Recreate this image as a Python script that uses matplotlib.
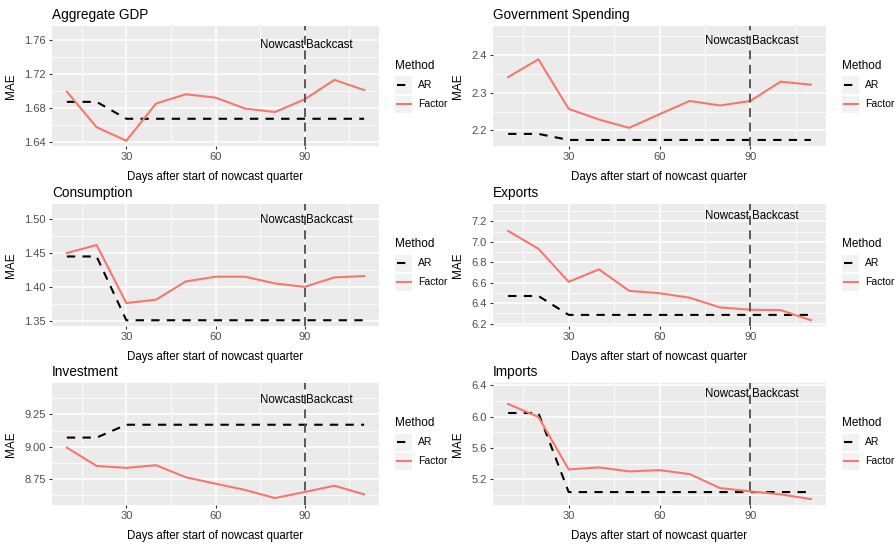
import matplotlib
matplotlib.use("Agg")
import matplotlib.pyplot as plt
from matplotlib.lines import Line2D
from matplotlib.patches import Rectangle

plt.rcParams['font.family'] = ['Liberation Sans', 'DejaVu Sans']

days = [10, 20, 30, 40, 50, 60, 70, 80, 90, 100, 110]

titles = ["Aggregate GDP", "Government Spending", "Consumption",
          "Exports", "Investment", "Imports"]

ar_gdp = [1.687, 1.687, 1.667, 1.667, 1.667, 1.667, 1.667, 1.667, 1.667, 1.667, 1.667]
factor_gdp = [1.699, 1.657, 1.641, 1.685, 1.696, 1.692, 1.679, 1.675, 1.690, 1.713, 1.701]

ar_gov = [2.191, 2.191, 2.175, 2.175, 2.175, 2.175, 2.175, 2.175, 2.175, 2.175, 2.175]
factor_gov = [2.341, 2.388, 2.257, 2.229, 2.207, 2.243, 2.278, 2.266, 2.278, 2.329, 2.321]

ar_cons = [1.445, 1.445, 1.3505, 1.3505, 1.3505, 1.3505, 1.3505, 1.3505, 1.3505, 1.3505, 1.3505]
factor_cons = [1.450, 1.462, 1.376, 1.381, 1.408, 1.415, 1.415, 1.405, 1.400, 1.414, 1.416]

ar_exp = [6.47, 6.47, 6.285, 6.285, 6.285, 6.285, 6.285, 6.285, 6.285, 6.285, 6.285]
factor_exp = [7.107, 6.933, 6.609, 6.731, 6.520, 6.497, 6.453, 6.358, 6.335, 6.332, 6.233]

ar_inv = [9.070, 9.070, 9.170, 9.170, 9.170, 9.170, 9.170, 9.170, 9.170, 9.170, 9.170]
factor_inv = [8.992, 8.849, 8.834, 8.855, 8.761, 8.711, 8.662, 8.599, 8.646, 8.695, 8.628]

ar_imp = [6.047, 6.047, 5.038, 5.038, 5.038, 5.038, 5.038, 5.038, 5.038, 5.038, 5.038]
factor_imp = [6.162, 5.997, 5.327, 5.353, 5.302, 5.318, 5.267, 5.089, 5.047, 5.009, 4.949]

ar_series = [ar_gdp, ar_gov, ar_cons, ar_exp, ar_inv, ar_imp]
factor_series = [factor_gdp, factor_gov, factor_cons, factor_exp, factor_inv, factor_imp]

yticks = [[1.64, 1.68, 1.72, 1.76],
          [2.2, 2.3, 2.4],
          [1.35, 1.40, 1.45, 1.50],
          [6.2, 6.4, 6.6, 6.8, 7.0, 7.2],
          [8.75, 9.00, 9.25],
          [5.2, 5.6, 6.0, 6.4]]
ytick_labels = [["1.64", "1.68", "1.72", "1.76"],
                ["2.2", "2.3", "2.4"],
                ["1.35", "1.40", "1.45", "1.50"],
                ["6.2", "6.4", "6.6", "6.8", "7.0", "7.2"],
                ["8.75", "9.00", "9.25"],
                ["5.2", "5.6", "6.0", "6.4"]]
xticks = [30, 60, 90]
split_day = 90

# layout (axis limits / annotation heights)
ylims = [(1.6348, 1.7767), (2.159, 2.476), (1.342, 1.5227),
         (6.176, 7.371), (8.545, 9.495), (4.873, 6.43)]
text_y = [1.7545, 2.4367, 1.499, 7.255, 9.359, 6.294]

W, H = 896, 545
fig = plt.figure(figsize=(W / 100, H / 100), dpi=100)

col_x = [(52, 379), (493, 826)]
row_y = [(26, 146), (204, 326), (383, 505)]

FACTOR_COLOR = "#F8766D"
BG = "#EBEBEB"

for i in range(6):
    r, c = divmod(i, 2)
    x0, x1 = col_x[c]
    y0, y1 = row_y[r]
    ax = fig.add_axes([x0 / W, 1 - y1 / H, (x1 - x0) / W, (y1 - y0) / H])
    ax.set_facecolor(BG)
    for s in ax.spines.values():
        s.set_visible(False)
    ax.set_xlim(5, 115)
    ax.set_ylim(*ylims[i])
    ax.set_xticks(xticks)
    ax.set_xticklabels([str(v) for v in xticks])
    ax.set_yticks(yticks[i])
    ax.set_yticklabels(ytick_labels[i])
    ax.set_xticks([15, 45, 75, 105], minor=True)
    yt = yticks[i]
    step = yt[1] - yt[0]
    ymin_all = [yt[0] - step / 2] + [a + step / 2 for a in yt]
    ax.set_yticks([v for v in ymin_all if ylims[i][0] < v < ylims[i][1]], minor=True)
    ax.grid(True, which='major', color='white', linewidth=1.1)
    ax.grid(True, which='minor', color='white', linewidth=0.55)
    ax.set_axisbelow(True)
    ax.tick_params(axis='both', which='major', length=2.5, width=0.8, color='#333333',
                   labelsize=8, labelcolor='#4D4D4D', pad=2)
    ax.tick_params(axis='both', which='minor', length=0)

    ax.plot(days, ar_series[i], color='black', linestyle=(0, (4, 3.5)), linewidth=1.5)
    ax.plot(days, factor_series[i], color=FACTOR_COLOR, linewidth=1.5)
    ax.axvline(split_day, color='#4D4D4D', linestyle=(0, (5, 3)), linewidth=1.3)
    ax.annotate("Nowcast", (split_day, text_y[i]), xytext=(-0.8, 0), textcoords='offset points',
                ha='right', va='center', fontsize=8.3, color='black')
    ax.annotate("Backcast", (split_day, text_y[i]), xytext=(1.0, 0), textcoords='offset points',
                ha='left', va='center', fontsize=8.3, color='black')

    ax.set_title(titles[i], loc='left', fontsize=9.8, pad=5, color='black')
    ax.set_xlabel("Days after start of nowcast quarter", fontsize=8.3, labelpad=6)
    ax.set_ylabel("MAE", fontsize=8.5, labelpad=5)

    lx = x1 + 16
    ly_title = y0 + 40
    fig.text(lx / W, 1 - ly_title / H, "Method", fontsize=8.5, va='center', ha='left')
    for k, (lab, col, ls) in enumerate([("AR", 'black', (0, (4, 3.5))), ("Factor", FACTOR_COLOR, '-')]):
        cy = y0 + 59 + k * 19
        fig.patches.append(Rectangle((lx / W, 1 - (cy + 8.5) / H), 17 / W, 17 / H,
                                     transform=fig.transFigure, facecolor='#F2F2F2',
                                     edgecolor='none'))
        fig.lines.append(Line2D([(lx + 1.5) / W, (lx + 15.5) / W], [1 - cy / H, 1 - cy / H],
                                transform=fig.transFigure, color=col, linestyle=ls, linewidth=1.5))
        fig.text((lx + 23) / W, 1 - cy / H, lab, fontsize=7.5, va='center', ha='left')

fig.savefig("out.png", dpi=100, facecolor='white')
